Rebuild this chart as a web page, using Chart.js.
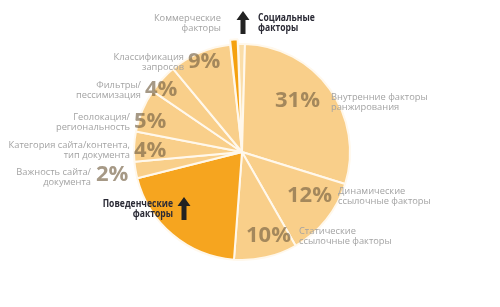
<!DOCTYPE html>
<html><head><meta charset="utf-8">
<script src="https://cdn.jsdelivr.net/npm/chart.js@4/dist/chart.umd.min.js"></script>
<style>html,body{margin:0;padding:0;background:#fff;}#wrap{width:500px;height:307px;position:relative;}</style>
</head><body><div id="wrap"><canvas id="c" width="500" height="307"></canvas></div>
<script>
// Categories (clockwise from the top)
const categories = [
  "Социальные факторы",
  "Внутренние факторы ранжирования",
  "Динамические ссылочные факторы",
  "Статические ссылочные факторы",
  "Поведенческие факторы",
  "Важность сайта/документа",
  "Категория сайта/контента, тип документа",
  "Геолокация/региональность",
  "Фильтры/пессимизация",
  "Классификация запросов",
  "Коммерческие факторы"
];
// Shares (%)
const shares = [1, 29.5, 12, 9.5, 20, 2.5, 4.5, 6.5, 4.5, 9.3, 1.2];
// Printed percentage labels
const pctLabels = ["", "31%", "12%", "10%", "", "2%", "4%", "5%", "4%", "9%", ""];

const PALE = "#F9CF8A";
const colors = ["#FADDA8", PALE, PALE, PALE, "#F6A51F", PALE, PALE, PALE, PALE, PALE, "#F5A10F"];
const offsets = [0,0,0,0,0,0,0,0,0,0,10];

function arrow(ctx, x, yTop, yBot) {
  ctx.save();
  ctx.fillStyle = "#222";
  ctx.beginPath();
  ctx.moveTo(x, yTop);
  ctx.lineTo(x + 6.5, yTop + 9);
  ctx.lineTo(x + 2.5, yTop + 9);
  ctx.lineTo(x + 2.5, yBot);
  ctx.lineTo(x - 2.5, yBot);
  ctx.lineTo(x - 2.5, yTop + 9);
  ctx.lineTo(x - 6.5, yTop + 9);
  ctx.closePath();
  ctx.fill();
  ctx.restore();
}

const annot = {
  id: "annot",
  afterDraw(chart) {
    const ctx = chart.ctx;
    const gray = "#A3A3A3";
    const pctCol = "rgba(115,95,65,0.64)";
    const small = "9.3px 'Open Sans', sans-serif";
    const bold = "bold 11px 'Open Sans', sans-serif";
    const big = "bold 22px 'Open Sans', sans-serif";
    ctx.save();
    ctx.textBaseline = "middle";
    function lines(arr, x, y, align, font, col, sx) {
      sx = sx || 1;
      ctx.save();
      ctx.translate(x, y);
      ctx.scale(sx, 1);
      ctx.font = font; ctx.fillStyle = col; ctx.textAlign = align;
      arr.forEach((t, i) => ctx.fillText(t, 0, i * 10));
      ctx.restore();
    }
    function pct(t, x, y) {
      ctx.font = big; ctx.fillStyle = pctCol; ctx.textAlign = "left";
      ctx.fillText(t, x, y);
    }
    // left side
    lines(["Коммерческие", "факторы"], 221, 18, "right", small, gray);
    lines(["Классификация", "запросов"], 184, 57, "right", small, gray);
    pct(pctLabels[9], 188, 62);
    lines(["Фильтры/", "пессимизация"], 141, 85, "right", small, gray);
    pct(pctLabels[8], 145, 90);
    lines(["Геолокация/", "региональность"], 130, 117, "right", small, gray);
    pct(pctLabels[7], 134, 122);
    lines(["Категория сайта/контента,", "тип документа"], 130, 145, "right", small, gray);
    pct(pctLabels[6], 134, 151);
    lines(["Важность сайта/", "документа"], 91, 172, "right", small, gray);
    pct(pctLabels[5], 96, 175);
    // right side
    pct(pctLabels[1], 275, 101);
    lines(["Внутренние факторы", "ранжирования"], 331, 97, "left", small, gray);
    pct(pctLabels[2], 287, 196);
    lines(["Динамические", "ссылочные факторы"], 338, 191, "left", small, gray);
    pct(pctLabels[3], 246, 236);
    lines(["Статические", "ссылочные факторы"], 299, 231, "left", small, gray);
    // bold labels
    lines(["Социальные", "факторы"], 258, 18, "left", bold, "#2a2a35", 0.78);
    arrow(ctx, 243, 11, 34);
    lines(["Поведенческие", "факторы"], 173, 204, "right", bold, "#2a2a35", 0.78);
    arrow(ctx, 184, 197, 220);
    ctx.restore();
  }
};

new Chart(document.getElementById("c"), {
  type: "pie",
  data: {
    labels: categories,
    datasets: [{
      data: shares,
      backgroundColor: colors,
      borderColor: "#FFF8EC",
      borderWidth: 2,
      offset: offsets
    }]
  },
  options: {
    responsive: false,
    animation: false,
    rotation: -2,
    layout: { padding: { top: 38, bottom: 41, left: 128, right: 144 } },
    plugins: { legend: { display: false }, tooltip: { enabled: false } }
  },
  plugins: [annot]
});
</script>
</body></html>
